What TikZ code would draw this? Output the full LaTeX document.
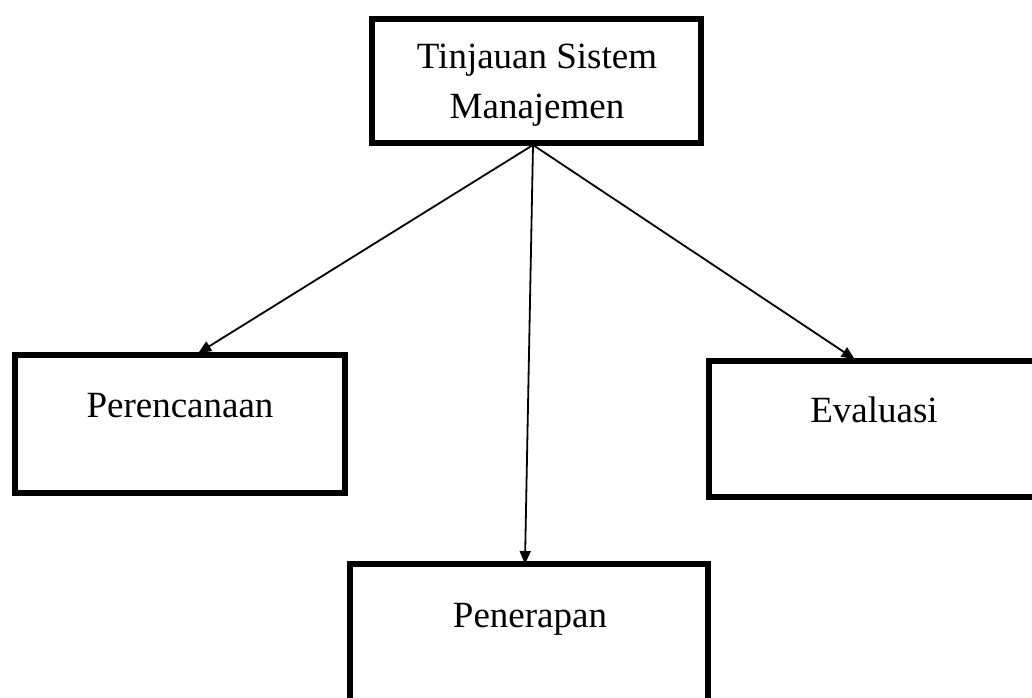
\documentclass[tikz,border=0pt]{standalone}
\usepackage{fontspec}
\setmainfont{Liberation Serif}
\usetikzlibrary{arrows.meta}
\begin{document}
\begin{tikzpicture}[x=1pt,y=-1pt,
  box/.style={draw=black,line width=6pt,fill=white,inner sep=0pt,outer sep=0pt},
  lbl/.style={font=\fontsize{37}{50}\selectfont,inner sep=0pt,anchor=base,align=center},
  conn/.style={line width=1.8pt,-{Triangle[length=13pt,width=11pt]},shorten >=-2pt}]
\useasboundingbox[fill=white] (0,0) rectangle (1032,697);
% boxes
\node[box,minimum width=329pt,minimum height=124pt] (top) at (536.5,81) {};
\node[box,minimum width=330pt,minimum height=138pt] (plan) at (180,424) {};
\node[box,minimum width=340pt,minimum height=136pt] (eval) at (879,429) {};
\node[box,minimum width=358pt,minimum height=160pt] (impl) at (529,644) {};
% labels
\node[lbl] (t1) at (537,68) {Tinjauan Sistem};
\node[lbl] (t2) at (537,118) {Manajemen};
\node[lbl] (tp) at (180,417) {Perencanaan};
\node[lbl] (te) at (874,422) {Evaluasi};
\node[lbl] (ti) at (530,627) {Penerapan};
% connectors
\coordinate (src) at (533,145);
\coordinate (pA) at (200,352);
\coordinate (pB) at (525,562);
\coordinate (pC) at (853,358);
\draw[conn] (src) -- (pA);
\draw[conn] (src) -- (pB);
\draw[conn] (src) -- (pC);
\end{tikzpicture}
\end{document}
